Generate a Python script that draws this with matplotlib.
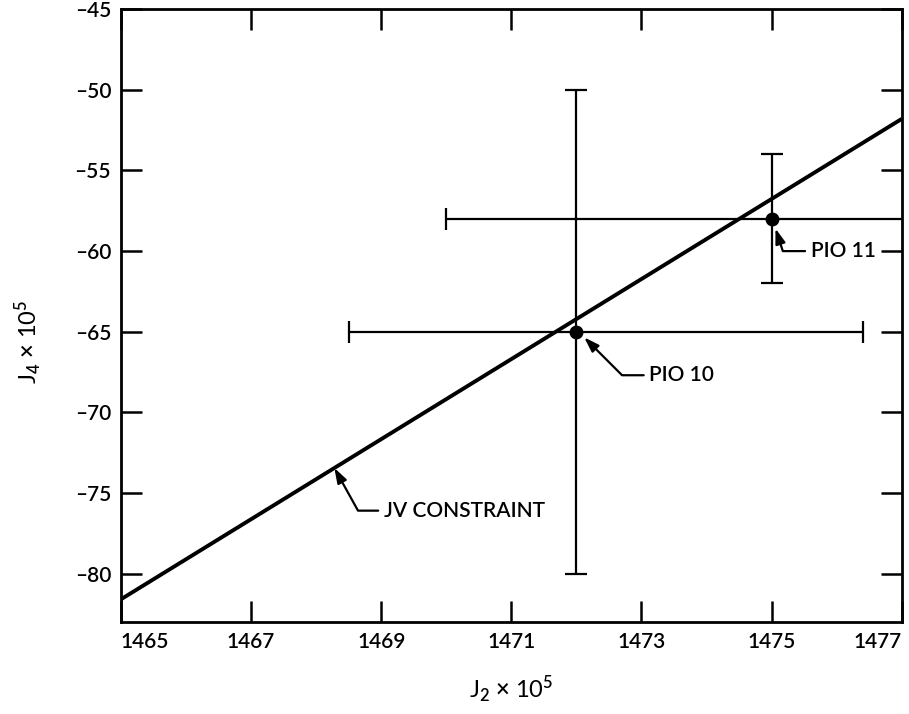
import matplotlib
matplotlib.use('Agg')
import matplotlib.pyplot as plt

plt.rcParams['font.family'] = ['Lato', 'DejaVu Sans']
plt.rcParams['font.weight'] = 'semibold'
plt.rcParams['mathtext.fontset'] = 'custom'
plt.rcParams['mathtext.rm'] = 'Lato:semibold'
plt.rcParams['mathtext.it'] = 'Lato:italic'

# JV constraint line (J2 vs J4, x 1e5)
constraint_j2 = [1465.0, 1477.0]
constraint_j4 = [-81.6, -51.8]

# Pioneer solutions with error bars
pio_names = ['PIO 10', 'PIO 11']
pio_j2 = [1472.0, 1475.0]
pio_j4 = [-65.0, -58.0]
pio_j2_err_lo = [3.5, 5.0]
pio_j2_err_hi = [4.4, 5.0]
pio_j4_err = [15.0, 4.0]

x_ticks = [1465, 1467, 1469, 1471, 1473, 1475, 1477]
y_ticks = [-80, -75, -70, -65, -60, -55, -50, -45]

fig = plt.figure(figsize=(9.09, 7.14), dpi=100)
ax = fig.add_axes([0.133, 0.129, 0.859, 0.858])

ax.plot(constraint_j2, constraint_j4, color='black', lw=2.8, solid_capstyle='butt')
ax.errorbar(pio_j2, pio_j4, xerr=[pio_j2_err_lo, pio_j2_err_hi], yerr=pio_j4_err,
            fmt='o', color='black', ms=9, elinewidth=1.6, capsize=8, capthick=1.6)

ax.set_xlim(1465, 1477)
ax.set_ylim(-83, -45)
ax.set_xticks(x_ticks)
ax.set_yticks(y_ticks)
ax.set_xticklabels([str(t) for t in x_ticks])
ax.set_yticklabels([str(t).replace('-', '\u2013') for t in y_ticks])
labels = ax.get_xticklabels()
labels[0].set_ha('left')
labels[-1].set_ha('right')

ax.tick_params(direction='in', length=15, width=1.8, top=True, right=True,
               labelsize=15, pad=7)
for sp in ax.spines.values():
    sp.set_linewidth(2)

arrow = dict(arrowstyle='-|>,head_length=0.6,head_width=0.2', color='black',
             lw=1.6, shrinkA=2, shrinkB=0, relpos=(0, 0.5))

ax.annotate(pio_names[0], xy=(1472.12, -65.35), xytext=(1473.12, -67.7),
            ha='left', va='center', fontsize=15,
            arrowprops=dict(arrow, connectionstyle='angle,angleA=0,angleB=-45,rad=0'))
ax.annotate(pio_names[1], xy=(1475.06, -58.6), xytext=(1475.6, -60.0),
            ha='left', va='center', fontsize=15,
            arrowprops=dict(arrow, connectionstyle='angle,angleA=0,angleB=-72,rad=0'))
ax.annotate('JV CONSTRAINT', xy=(1468.28, -73.45), xytext=(1469.04, -76.1),
            ha='left', va='center', fontsize=15,
            arrowprops=dict(arrow, connectionstyle='angle,angleA=0,angleB=-61,rad=0'))

ax.set_xlabel(r'J$_2$ $\times$ 10$^5$', fontsize=17, labelpad=16)
ax.set_ylabel(r'J$_4$ $\times$ 10$^5$', fontsize=17)
ax.yaxis.set_label_coords(-0.1, 0.457)

fig.savefig('out.png', dpi=100)
